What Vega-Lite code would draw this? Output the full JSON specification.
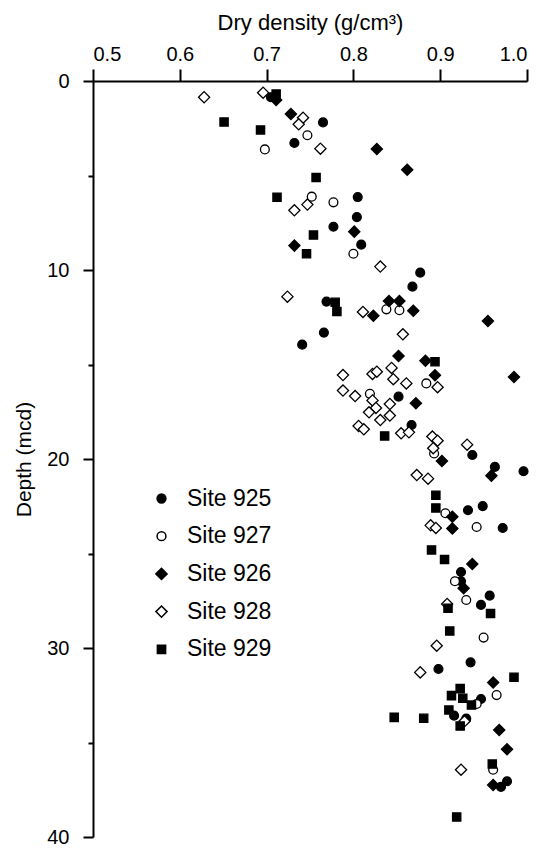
{
  "$schema": "https://vega.github.io/schema/vega-lite/v6.json",
  "width": 434,
  "height": 756,
  "autosize": {"type": "none"},
  "padding": {"left": 93, "top": 81, "right": 16, "bottom": 12},
  "background": "white",
  "config": {
    "view": {"stroke": null},
    "font": "Liberation Sans",
    "legend": {
      "title": null, "orient": "none", "legendX": 57, "legendY": 406,
      "labelFontSize": 23, "labelFont": "Liberation Sans", "labelColor": "black",
      "labelOffset": 14, "rowPadding": 13.7, "padding": 0
    }
  },
  "data": {
    "values": [
      {"site": "Site 925", "density": 0.765, "depth": 2.19},
      {"site": "Site 925", "density": 0.705, "depth": 0.86},
      {"site": "Site 925", "density": 0.732, "depth": 3.28},
      {"site": "Site 925", "density": 0.805, "depth": 6.14},
      {"site": "Site 925", "density": 0.804, "depth": 7.2},
      {"site": "Site 925", "density": 0.777, "depth": 7.71},
      {"site": "Site 925", "density": 0.809, "depth": 8.66},
      {"site": "Site 925", "density": 0.877, "depth": 10.14},
      {"site": "Site 925", "density": 0.868, "depth": 10.88},
      {"site": "Site 925", "density": 0.769, "depth": 11.67},
      {"site": "Site 925", "density": 0.766, "depth": 13.31},
      {"site": "Site 925", "density": 0.741, "depth": 13.95},
      {"site": "Site 925", "density": 0.852, "depth": 16.7},
      {"site": "Site 925", "density": 0.867, "depth": 18.2},
      {"site": "Site 925", "density": 0.937, "depth": 19.79},
      {"site": "Site 925", "density": 0.963, "depth": 20.42},
      {"site": "Site 925", "density": 0.996, "depth": 20.65},
      {"site": "Site 925", "density": 0.932, "depth": 22.71},
      {"site": "Site 925", "density": 0.949, "depth": 22.49},
      {"site": "Site 925", "density": 0.972, "depth": 23.65},
      {"site": "Site 925", "density": 0.924, "depth": 25.98},
      {"site": "Site 925", "density": 0.924, "depth": 26.47},
      {"site": "Site 925", "density": 0.957, "depth": 27.23},
      {"site": "Site 925", "density": 0.947, "depth": 27.72},
      {"site": "Site 925", "density": 0.935, "depth": 30.76},
      {"site": "Site 925", "density": 0.898, "depth": 31.11},
      {"site": "Site 925", "density": 0.947, "depth": 32.7},
      {"site": "Site 925", "density": 0.916, "depth": 33.58},
      {"site": "Site 925", "density": 0.93, "depth": 33.74},
      {"site": "Site 925", "density": 0.97, "depth": 37.35},
      {"site": "Site 925", "density": 0.977, "depth": 37.05},
      {"site": "Site 927", "density": 0.747, "depth": 2.87},
      {"site": "Site 927", "density": 0.698, "depth": 3.62},
      {"site": "Site 927", "density": 0.752, "depth": 6.12},
      {"site": "Site 927", "density": 0.777, "depth": 6.42},
      {"site": "Site 927", "density": 0.8, "depth": 9.14},
      {"site": "Site 927", "density": 0.838, "depth": 12.08},
      {"site": "Site 927", "density": 0.853, "depth": 12.13},
      {"site": "Site 927", "density": 0.884, "depth": 16.0},
      {"site": "Site 927", "density": 0.819, "depth": 16.55},
      {"site": "Site 927", "density": 0.893, "depth": 19.71},
      {"site": "Site 927", "density": 0.906, "depth": 22.87},
      {"site": "Site 927", "density": 0.942, "depth": 23.6},
      {"site": "Site 927", "density": 0.917, "depth": 26.47},
      {"site": "Site 927", "density": 0.93, "depth": 27.46},
      {"site": "Site 927", "density": 0.95, "depth": 29.45},
      {"site": "Site 927", "density": 0.965, "depth": 32.49},
      {"site": "Site 927", "density": 0.942, "depth": 32.96},
      {"site": "Site 927", "density": 0.961, "depth": 36.44},
      {"site": "Site 926", "density": 0.711, "depth": 1.0},
      {"site": "Site 926", "density": 0.728, "depth": 1.75},
      {"site": "Site 926", "density": 0.827, "depth": 3.6},
      {"site": "Site 926", "density": 0.862, "depth": 4.7},
      {"site": "Site 926", "density": 0.801, "depth": 7.97},
      {"site": "Site 926", "density": 0.732, "depth": 8.71},
      {"site": "Site 926", "density": 0.841, "depth": 11.64},
      {"site": "Site 926", "density": 0.853, "depth": 11.64},
      {"site": "Site 926", "density": 0.823, "depth": 12.42},
      {"site": "Site 926", "density": 0.869, "depth": 12.15},
      {"site": "Site 926", "density": 0.955, "depth": 12.7},
      {"site": "Site 926", "density": 0.852, "depth": 14.55},
      {"site": "Site 926", "density": 0.883, "depth": 14.8},
      {"site": "Site 926", "density": 0.894, "depth": 15.57},
      {"site": "Site 926", "density": 0.985, "depth": 15.66},
      {"site": "Site 926", "density": 0.872, "depth": 17.05},
      {"site": "Site 926", "density": 0.902, "depth": 20.1},
      {"site": "Site 926", "density": 0.959, "depth": 20.88},
      {"site": "Site 926", "density": 0.914, "depth": 23.05},
      {"site": "Site 926", "density": 0.914, "depth": 23.68},
      {"site": "Site 926", "density": 0.937, "depth": 25.56},
      {"site": "Site 926", "density": 0.927, "depth": 26.84},
      {"site": "Site 926", "density": 0.961, "depth": 31.83},
      {"site": "Site 926", "density": 0.968, "depth": 34.34},
      {"site": "Site 926", "density": 0.977, "depth": 35.36},
      {"site": "Site 926", "density": 0.961, "depth": 37.25},
      {"site": "Site 928", "density": 0.628, "depth": 0.86},
      {"site": "Site 928", "density": 0.696, "depth": 0.62},
      {"site": "Site 928", "density": 0.742, "depth": 1.94},
      {"site": "Site 928", "density": 0.737, "depth": 2.29},
      {"site": "Site 928", "density": 0.762, "depth": 3.58},
      {"site": "Site 928", "density": 0.747, "depth": 6.54},
      {"site": "Site 928", "density": 0.732, "depth": 6.84},
      {"site": "Site 928", "density": 0.831, "depth": 9.82},
      {"site": "Site 928", "density": 0.724, "depth": 11.41},
      {"site": "Site 928", "density": 0.811, "depth": 12.22},
      {"site": "Site 928", "density": 0.857, "depth": 13.4},
      {"site": "Site 928", "density": 0.788, "depth": 15.56},
      {"site": "Site 928", "density": 0.822, "depth": 15.5},
      {"site": "Site 928", "density": 0.827, "depth": 15.38},
      {"site": "Site 928", "density": 0.844, "depth": 15.18},
      {"site": "Site 928", "density": 0.846, "depth": 15.78},
      {"site": "Site 928", "density": 0.861, "depth": 16.0},
      {"site": "Site 928", "density": 0.897, "depth": 16.2},
      {"site": "Site 928", "density": 0.788, "depth": 16.38},
      {"site": "Site 928", "density": 0.802, "depth": 16.67},
      {"site": "Site 928", "density": 0.822, "depth": 16.9},
      {"site": "Site 928", "density": 0.842, "depth": 17.09},
      {"site": "Site 928", "density": 0.826, "depth": 17.3},
      {"site": "Site 928", "density": 0.818, "depth": 17.53},
      {"site": "Site 928", "density": 0.842, "depth": 17.7},
      {"site": "Site 928", "density": 0.831, "depth": 17.94},
      {"site": "Site 928", "density": 0.806, "depth": 18.25},
      {"site": "Site 928", "density": 0.812, "depth": 18.43},
      {"site": "Site 928", "density": 0.855, "depth": 18.64},
      {"site": "Site 928", "density": 0.864, "depth": 18.59},
      {"site": "Site 928", "density": 0.891, "depth": 18.81},
      {"site": "Site 928", "density": 0.897, "depth": 19.03},
      {"site": "Site 928", "density": 0.892, "depth": 19.43},
      {"site": "Site 928", "density": 0.931, "depth": 19.24},
      {"site": "Site 928", "density": 0.873, "depth": 20.85},
      {"site": "Site 928", "density": 0.886, "depth": 21.04},
      {"site": "Site 928", "density": 0.889, "depth": 23.51},
      {"site": "Site 928", "density": 0.895, "depth": 23.65},
      {"site": "Site 928", "density": 0.908, "depth": 27.67},
      {"site": "Site 928", "density": 0.896, "depth": 29.88},
      {"site": "Site 928", "density": 0.877, "depth": 31.29},
      {"site": "Site 928", "density": 0.928, "depth": 33.88},
      {"site": "Site 928", "density": 0.924, "depth": 36.44},
      {"site": "Site 929", "density": 0.711, "depth": 0.69},
      {"site": "Site 929", "density": 0.651, "depth": 2.17},
      {"site": "Site 929", "density": 0.693, "depth": 2.59},
      {"site": "Site 929", "density": 0.757, "depth": 5.11},
      {"site": "Site 929", "density": 0.712, "depth": 6.15},
      {"site": "Site 929", "density": 0.754, "depth": 8.15},
      {"site": "Site 929", "density": 0.746, "depth": 9.14},
      {"site": "Site 929", "density": 0.779, "depth": 11.71},
      {"site": "Site 929", "density": 0.781, "depth": 12.2},
      {"site": "Site 929", "density": 0.894, "depth": 14.85},
      {"site": "Site 929", "density": 0.836, "depth": 18.78},
      {"site": "Site 929", "density": 0.895, "depth": 21.92},
      {"site": "Site 929", "density": 0.895, "depth": 22.59},
      {"site": "Site 929", "density": 0.89, "depth": 24.81},
      {"site": "Site 929", "density": 0.905, "depth": 25.32},
      {"site": "Site 929", "density": 0.958, "depth": 28.17},
      {"site": "Site 929", "density": 0.909, "depth": 27.9},
      {"site": "Site 929", "density": 0.911, "depth": 29.1},
      {"site": "Site 929", "density": 0.985, "depth": 31.55},
      {"site": "Site 929", "density": 0.923, "depth": 32.15},
      {"site": "Site 929", "density": 0.913, "depth": 32.52},
      {"site": "Site 929", "density": 0.926, "depth": 32.66},
      {"site": "Site 929", "density": 0.936, "depth": 33.02},
      {"site": "Site 929", "density": 0.91, "depth": 33.28},
      {"site": "Site 929", "density": 0.847, "depth": 33.67},
      {"site": "Site 929", "density": 0.881, "depth": 33.72},
      {"site": "Site 929", "density": 0.923, "depth": 34.13},
      {"site": "Site 929", "density": 0.96, "depth": 36.14},
      {"site": "Site 929", "density": 0.919, "depth": 38.94}
    ]
  },
  "mark": {"type": "point", "filled": true, "opacity": 1},
  "encoding": {
    "x": {
      "field": "density", "type": "quantitative",
      "scale": {"domain": [0.5, 1.0], "nice": false, "zero": false},
      "axis": {
        "orient": "top", "title": "Dry density (g/cm³)",
        "values": [0.5, 0.6, 0.7, 0.8, 0.9, 1.0], "format": ".1f",
        "grid": false, "domainColor": "black", "domainWidth": 2,
        "tickColor": "black", "tickWidth": 2, "tickSize": 12,
        "labelFontSize": 20, "labelColor": "black", "labelPadding": 5,
        "labelFont": "Liberation Sans",
        "titleFont": "Liberation Sans", "titleFontSize": 22, "titleFontWeight": "normal",
        "titleColor": "black", "titlePadding": 10
      }
    },
    "y": {
      "field": "depth", "type": "quantitative",
      "scale": {"domain": [0, 40], "nice": false, "reverse": true},
      "axis": {
        "title": "Depth (mcd)",
        "values": [0, 5, 10, 15, 20, 25, 30, 35, 40],
        "labelExpr": "datum.value % 10 === 0 ? datum.label : ''",
        "grid": false, "domainColor": "black", "domainWidth": 2,
        "tickColor": "black", "tickWidth": 2,
        "tickSize": {"condition": {"test": "datum.value % 10 === 0", "value": 10}, "value": 5},
        "labelFontSize": 20, "labelColor": "black", "labelPadding": 14,
        "labelFont": "Liberation Sans",
        "titleFont": "Liberation Sans", "titleFontSize": 21, "titleFontWeight": "normal",
        "titleColor": "black", "titlePadding": 12
      }
    },
    "stroke": {"value": "black"},
    "strokeWidth": {"value": 1.3},
    "shape": {
      "field": "site", "type": "nominal",
      "scale": {"domain": ["Site 925", "Site 927", "Site 926", "Site 928", "Site 929"],
                "range": ["circle", "circle", "diamond", "diamond", "square"]},
      "legend": {
        "encode": {"symbols": {"update": {"stroke": {"value": "black"}, "strokeWidth": {"value": 1.2}}}}
      }
    },
    "fill": {
      "field": "site", "type": "nominal",
      "scale": {"domain": ["Site 925", "Site 927", "Site 926", "Site 928", "Site 929"],
                "range": ["black", "white", "black", "white", "black"]},
      "legend": {
        "encode": {"symbols": {"update": {"stroke": {"value": "black"}, "strokeWidth": {"value": 1.2}}}}
      }
    },
    "size": {
      "field": "site", "type": "ordinal",
      "scale": {"type": "ordinal", "domain": ["Site 925", "Site 927", "Site 926", "Site 928", "Site 929"],
                "range": [78, 78, 125, 125, 68]},
      "legend": {
        "encode": {"symbols": {"update": {"stroke": {"value": "black"}, "strokeWidth": {"value": 1.2}}}}
      }
    }
  }
}
